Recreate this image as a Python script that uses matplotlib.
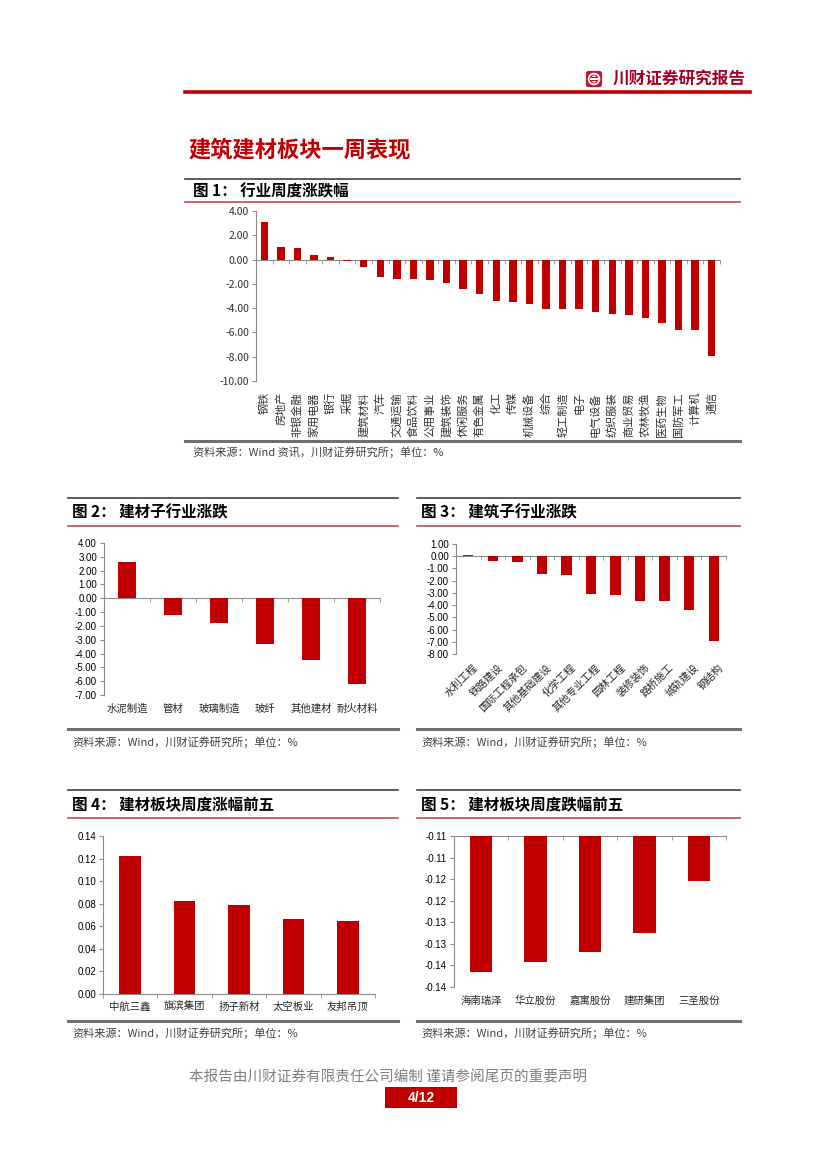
import matplotlib
matplotlib.use('Agg')
import numpy as np
import matplotlib.pyplot as plt
from matplotlib.lines import Line2D
from matplotlib.patches import Rectangle, FancyBboxPatch, Circle, Polygon
from matplotlib.ticker import FixedLocator, FuncFormatter
from decimal import Decimal, ROUND_HALF_UP

plt.rcParams['font.family'] = ['Noto Sans CJK SC', 'DejaVu Sans']

# 图1 行业周度涨跌幅
ind_names = ['钢铁', '房地产', '非银金融', '家用电器', '银行', '采掘', '建筑材料', '汽车',
             '交通运输', '食品饮料', '公用事业', '建筑装饰', '休闲服务', '有色金属', '化工',
             '传媒', '机械设备', '综合', '轻工制造', '电子', '电气设备', '纺织服装',
             '商业贸易', '农林牧渔', '医药生物', '国防军工', '计算机', '通信']
ind_chg = [3.08, 1.07, 0.96, 0.38, 0.25, -0.10, -0.63, -1.43, -1.59, -1.60, -1.65, -1.95,
           -2.39, -2.80, -3.41, -3.49, -3.63, -4.07, -4.07, -4.06, -4.29, -4.50, -4.56,
           -4.78, -5.22, -5.80, -5.80, -7.94]

# 图2 建材子行业涨跌
jc_names = ['水泥制造', '管材', '玻璃制造', '玻纤', '其他建材', '耐火材料']
jc_chg = [2.66, -1.21, -1.77, -3.34, -4.50, -6.21]

# 图3 建筑子行业涨跌
jz_names = ['水利工程', '铁路建设', '国际工程承包', '其他基础建设', '化学工程', '其他专业工程',
            '园林工程', '装修装饰', '路桥施工', '城轨建设', '钢结构']
jz_chg = [0.10, -0.40, -0.45, -1.44, -1.52, -3.05, -3.20, -3.64, -3.70, -4.40, -6.93]

# 图4 涨幅前五
up_names = ['中航三鑫', '旗滨集团', '扬子新材', '太空板业', '友邦吊顶']
up_chg = [0.122, 0.0825, 0.0787, 0.0666, 0.0645]

# 图5 跌幅前五
dn_names = ['海南瑞泽', '华立股份', '嘉寓股份', '建研集团', '三圣股份']
dn_chg = [-0.1365, -0.1343, -0.1319, -0.1274, -0.1155]

RED = '#C00000'
AXC = '#8C8C8C'
W, H = 827, 1169
fig = plt.figure(figsize=(8.27, 11.69), dpi=100)


def ax_px(l, t, r, b):
    return fig.add_axes([l / W, 1 - b / H, (r - l) / W, (b - t) / H])


def hline(y, x0, x1, color, lw):
    fig.add_artist(Line2D([x0 / W, x1 / W], [1 - y / H, 1 - y / H], color=color, lw=lw))


def text_px(x, y, s, **kw):
    fig.text(x / W, 1 - y / H, s, **kw)


def frame(x0, x1, y_top, y_title, y_red, y_bot, y_src, title, src, tx=4):
    hline(y_top, x0, x1, '#404040', 1.2)
    text_px(x0 + tx, y_title, title, fontsize=11.2, fontweight='bold', va='center', color='black')
    hline(y_red, x0, x1, '#C0504D', 1.2)
    hline(y_bot, x0, x1, '#707070', 2.2)
    text_px(x0 + tx, y_src, src, fontsize=8, va='center', color='#404040')


def style_axes(ax, n, num_font):
    for s in ['top', 'right']:
        ax.spines[s].set_visible(False)
    for s in ['left', 'bottom']:
        ax.spines[s].set_color(AXC)
        ax.spines[s].set_linewidth(0.8)
    ax.set_xlim(-0.5, n - 0.5)
    ax.set_xticks([])
    ax.xaxis.set_minor_locator(FixedLocator(np.arange(n + 1) - 0.5))
    ax.tick_params(axis='x', which='minor', length=3, color=AXC, direction='out')
    ax.tick_params(axis='y', length=3, color=AXC, direction='out', labelsize=7, pad=2)
    for t in ax.get_yticklabels():
        t.set_family(num_font)
    ax.patch.set_alpha(0)


# ---- header
hline(92, 185, 750, RED, 2.6)
text_px(613, 79, '川财证券研究报告', fontsize=12, color='#A50021', va='center', fontweight='bold')
lax = ax_px(585, 70, 603, 88)
lax.set_xlim(0, 1)
lax.set_ylim(0, 1)
lax.axis('off')
lax.add_patch(FancyBboxPatch((0.05, 0.05), 0.9, 0.9, boxstyle='round,pad=0,rounding_size=0.15',
                             fc='#C8102E', ec='none'))
lax.add_patch(Circle((0.5, 0.5), 0.3, fc='none', ec='white', lw=1.3))
lax.add_patch(Rectangle((0.25, 0.45), 0.5, 0.1, fc='white', ec='none'))
lax.add_patch(Polygon([[0.35, 0.62], [0.65, 0.62], [0.5, 0.72]], fc='white', ec='none'))
lax.add_patch(Polygon([[0.35, 0.38], [0.65, 0.38], [0.5, 0.28]], fc='white', ec='none'))

text_px(188, 150, '建筑建材板块一周表现', fontsize=16, fontweight='bold', color=RED, va='center')

# ---- 图1
frame(185, 740, 179, 191, 202, 441, 452, '图 1： 行业周度涨跌幅',
      '资料来源：Wind 资讯，川财证券研究所；单位：%', tx=8)
ax1 = ax_px(256, 211, 720, 381)
x = np.arange(len(ind_names))
ax1.bar(x, ind_chg, width=0.45, color=RED, zorder=3)
ax1.set_ylim(-10, 4)
ax1.set_yticks(np.arange(-10, 4.1, 2))
ax1.yaxis.set_major_formatter(FuncFormatter(lambda v, p: f'{v:.2f}'))
ax1.spines['bottom'].set_position(('data', 0))
style_axes(ax1, len(ind_names), 'Noto Sans CJK SC')
ax1.tick_params(axis='y', labelsize=7.5, labelcolor='#303030')
for i, name in enumerate(ind_names):
    ax1.annotate(name, xy=(i, 0), xycoords=('data', 'axes fraction'), xytext=(0, -8),
                 textcoords='offset points', rotation=90, ha='center', va='top',
                 fontsize=8, color='#303030')

# ---- 图2
frame(68, 398, 498, 512, 526, 729, 742, '图 2： 建材子行业涨跌', '资料来源：Wind，川财证券研究所；单位：%')
ax2 = ax_px(104, 543, 380, 695)
x = np.arange(len(jc_names))
ax2.bar(x, jc_chg, width=0.4, color=RED, zorder=3)
ax2.set_ylim(-7, 4)
ax2.set_yticks(np.arange(-7, 4.1, 1))
ax2.yaxis.set_major_formatter(FuncFormatter(lambda v, p: f'{v:.2f}'))
ax2.spines['bottom'].set_position(('data', 0))
style_axes(ax2, len(jc_names), 'Liberation Sans')
for i, name in enumerate(jc_names):
    ax2.annotate(name, xy=(i, 0), xycoords=('data', 'axes fraction'), xytext=(0, -10),
                 textcoords='offset points', ha='center', va='center', fontsize=7.5, color='#262626')

# ---- 图3
frame(417, 740, 498, 512, 526, 729, 742, '图 3： 建筑子行业涨跌', '资料来源：Wind，川财证券研究所；单位：%')
ax3 = ax_px(456, 544, 726, 654)
x = np.arange(len(jz_names))
ax3.bar(x, jz_chg, width=0.42, color=RED, zorder=3)
ax3.set_ylim(-8, 1)
ax3.set_yticks(np.arange(-8, 1.1, 1))
ax3.yaxis.set_major_formatter(FuncFormatter(lambda v, p: f'{v:.2f}'))
ax3.spines['bottom'].set_position(('data', 0))
style_axes(ax3, len(jz_names), 'Liberation Sans')
for i, name in enumerate(jz_names):
    ax3.annotate(name, xy=(i, 0), xycoords=('data', 'axes fraction'), xytext=(3, -6),
                 textcoords='offset points', ha='right', va='top', rotation=45,
                 rotation_mode='anchor', fontsize=7.5, color='#262626')

# ---- 图4
frame(68, 398, 790, 805, 818, 1021, 1033, '图 4： 建材板块周度涨幅前五', '资料来源：Wind，川财证券研究所；单位：%')
ax4 = ax_px(103, 836, 375, 994)
x = np.arange(len(up_names))
ax4.bar(x, up_chg, width=0.4, color=RED, zorder=3)
ax4.set_ylim(0, 0.14)
ax4.set_yticks(np.arange(0, 0.141, 0.02))
ax4.yaxis.set_major_formatter(FuncFormatter(lambda v, p: f'{v:.2f}'))
style_axes(ax4, len(up_names), 'Liberation Sans')
for i, name in enumerate(up_names):
    ax4.annotate(name, xy=(i, 0), xycoords=('data', 'axes fraction'), xytext=(0, -9),
                 textcoords='offset points', ha='center', va='center', fontsize=7.5, color='#262626')

# ---- 图5
frame(417, 740, 790, 805, 818, 1021, 1033, '图 5： 建材板块周度跌幅前五', '资料来源：Wind，川财证券研究所；单位：%')
ax5 = ax_px(454, 836, 726, 987)
x = np.arange(len(dn_names))
top5 = -0.105
ax5.bar(x, np.array(dn_chg) - top5, bottom=top5, width=0.41, color=RED, zorder=3)
ax5.set_ylim(-0.14, top5)
ax5.set_yticks(np.linspace(-0.14, -0.105, 8))


def excel_fmt(v, p):
    # Excel rounds half away from zero
    return str(Decimal(f'{float(v):.6f}').quantize(Decimal('0.01'), rounding=ROUND_HALF_UP))


ax5.yaxis.set_major_formatter(FuncFormatter(excel_fmt))
style_axes(ax5, len(dn_names), 'Liberation Sans')
ax5.spines['bottom'].set_visible(False)
ax5.spines['top'].set_visible(True)
ax5.spines['top'].set_color(AXC)
ax5.spines['top'].set_linewidth(0.8)
ax5.tick_params(axis='x', which='minor', bottom=False, top=True, direction='in', length=3)
for i, name in enumerate(dn_names):
    ax5.annotate(name, xy=(i, 0), xycoords=('data', 'axes fraction'), xytext=(0, -10),
                 textcoords='offset points', ha='center', va='center', fontsize=7.5, color='#262626')

# ---- footer
text_px(388, 1077, '本报告由川财证券有限责任公司编制 谨请参阅尾页的重要声明', fontsize=10.5,
        color='#7F7F7F', ha='center', va='center')
fig.add_artist(Rectangle((385 / W, 1 - 1108 / H), 72 / W, 21 / H, transform=fig.transFigure,
                         fc=RED, ec='none'))
text_px(421, 1098, '4/12', fontsize=10, color='white', fontweight='bold', ha='center', va='center',
        family='Liberation Sans')

fig.savefig('out.png', dpi=100)
